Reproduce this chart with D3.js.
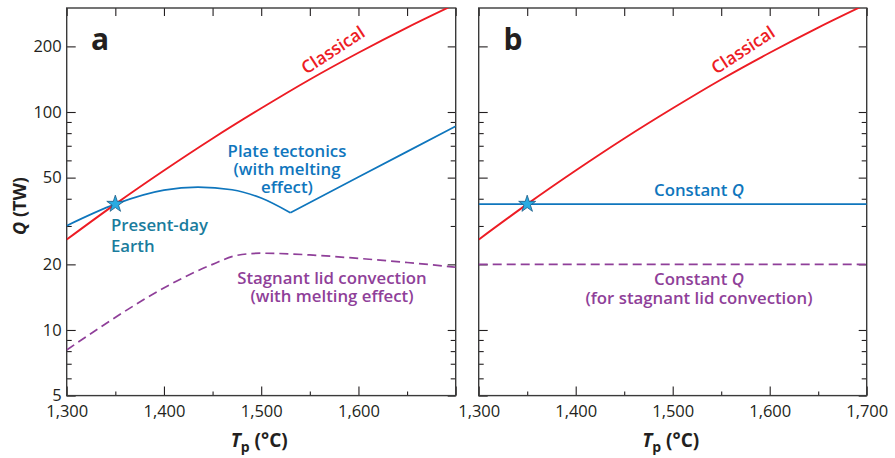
<!DOCTYPE html>
<html>
<head>
<meta charset="utf-8">
<script src="https://cdn.jsdelivr.net/npm/d3@7"></script>
<style>
  body { margin: 0; background: #fff; }
  svg { display: block; }
  text { font-family: "Open Sans", "Noto Sans", sans-serif; }
</style>
</head>
<body>
<svg id="chart" width="895" height="458"></svg>
<script>
// tick values
const tempTicks = [1300, 1400, 1500, 1600, 1700];
const tempMinor = [1350, 1450, 1550, 1650];
const qTicks = [5, 10, 20, 50, 100, 200];
const qMinor = [6, 7, 8, 9, 30, 40, 60, 70, 80, 90];

// panel a series (Tp in °C, Q in TW)
const classicalT = [1300, 1350, 1400, 1450, 1500, 1550, 1600, 1650, 1700];
const classicalQ = [26, 37.8, 53.9, 75.6, 104, 141, 187, 244, 313];
const plateT = [1300, 1350, 1400, 1435, 1470, 1500, 1530];
const plateQ = [30.1, 37.8, 43.8, 45.2, 44, 40.3, 34.5];
const plateHotT = [1530, 1600, 1650, 1700];
const plateHotQ = [34.5, 50.3, 65.8, 86];
const stagnantT = [1300, 1450, 1475, 1500, 1550, 1600, 1650, 1700];
const stagnantQ = [8.1, 20, 22, 22.5, 22.1, 21.3, 20.4, 19.4];

// panel b series
const constT = [1300, 1700];
const constQ = [37.8, 37.8];
const constStagQ = [20, 20];

// present-day Earth
const presentT = 1350;
const presentQ = 37.8;

const RED = "#ed1c24", BLUE = "#0f76bd", PURPLE = "#8f3f99", TEAL = "#1a7c9d", INK = "#231f20";
const NOTE = 16.8;

const svg = d3.select("#chart");
const yTop = 8, yBottom = 395.6;
const y = d3.scaleLog().domain([5, 300]).range([yBottom, yTop]);

const pts = (T, Q) => T.map((t, i) => [t, Q[i]]);

function panel(id, x0, x1, xLabels, showY) {
  const x = d3.scaleLinear().domain([1300, 1700]).range([x0, x1]);
  const g = svg.append("g");

  g.append("clipPath").attr("id", "clip-" + id)
    .append("rect").attr("x", x0).attr("y", yTop).attr("width", x1 - x0).attr("height", yBottom - yTop);

  // ticks, all pointing inward
  const fmt = d3.format(",");
  g.append("g").attr("transform", `translate(0,${yBottom})`)
    .call(d3.axisBottom(x).tickValues(tempTicks).tickSize(-9).tickPadding(10)
      .tickFormat(d => xLabels.includes(d) ? fmt(d) : ""));
  g.append("g").attr("transform", `translate(0,${yBottom})`)
    .call(d3.axisBottom(x).tickValues(tempMinor).tickSize(-4).tickFormat(""));
  g.append("g").attr("transform", `translate(0,${yTop})`)
    .call(d3.axisTop(x).tickValues(tempTicks.concat(tempMinor)).tickSize(-8).tickFormat(""));

  g.append("g").attr("transform", `translate(${x0},0)`)
    .call(d3.axisLeft(y).tickValues(qTicks).tickSize(-9).tickPadding(5)
      .tickFormat(d => showY ? d : ""));
  g.append("g").attr("transform", `translate(${x0},0)`)
    .call(d3.axisLeft(y).tickValues(qMinor).tickSize(-5).tickFormat(""));
  g.append("g").attr("transform", `translate(${x1},0)`)
    .call(d3.axisRight(y).tickValues(qTicks).tickSize(-8).tickFormat(""));
  g.append("g").attr("transform", `translate(${x1},0)`)
    .call(d3.axisRight(y).tickValues(qMinor).tickSize(-5).tickFormat(""));

  g.selectAll(".domain").remove();
  g.selectAll(".tick line").attr("stroke", INK).attr("stroke-width", 1.1);
  g.selectAll(".tick text").attr("fill", INK).style("font-size", "16.5px");

  g.append("rect").attr("x", x0).attr("y", yTop).attr("width", x1 - x0).attr("height", yBottom - yTop)
    .attr("fill", "none").attr("stroke", "#3a3a3a").attr("stroke-width", 1.4);

  // axis title
  const t = g.append("text").attr("x", (x0 + x1) / 2 - 2).attr("y", 447)
    .attr("text-anchor", "middle").attr("fill", INK)
    .style("font-size", "19px").style("font-weight", 700);
  t.append("tspan").style("font-style", "italic").text("T");
  t.append("tspan").attr("dy", 5).style("font-size", "14px").text("p");
  t.append("tspan").attr("dy", -5).text(" (°C)");

  const plot = g.append("g").attr("clip-path", `url(#clip-${id})`);
  const line = d3.line().x(d => x(d[0])).y(d => y(d[1]));
  return { g, x, plot, line };
}

// ---- panel a ----
const a = panel("a", 66.7, 455.7, [1300, 1400, 1500, 1600], true);

a.plot.append("path").datum(pts(stagnantT, stagnantQ))
  .attr("d", a.line.curve(d3.curveMonotoneX))
  .attr("fill", "none").attr("stroke", PURPLE).attr("stroke-width", 1.7).attr("stroke-dasharray", "9,5");
a.plot.append("path").datum(pts(plateT, plateQ))
  .attr("d", a.line.curve(d3.curveMonotoneX))
  .attr("fill", "none").attr("stroke", BLUE).attr("stroke-width", 1.7);
a.plot.append("path").datum(pts(plateHotT, plateHotQ))
  .attr("d", a.line.curve(d3.curveLinear))
  .attr("fill", "none").attr("stroke", BLUE).attr("stroke-width", 1.7);
a.plot.append("path").datum(pts(classicalT, classicalQ))
  .attr("d", a.line.curve(d3.curveMonotoneX))
  .attr("fill", "none").attr("stroke", RED).attr("stroke-width", 1.9);

// ---- panel b ----
const b = panel("b", 478.7, 866.7, tempTicks, false);

b.plot.append("path").datum(pts(constT, constStagQ))
  .attr("d", b.line.curve(d3.curveLinear))
  .attr("fill", "none").attr("stroke", PURPLE).attr("stroke-width", 1.7).attr("stroke-dasharray", "9,5");
b.plot.append("path").datum(pts(constT, constQ))
  .attr("d", b.line.curve(d3.curveLinear))
  .attr("fill", "none").attr("stroke", BLUE).attr("stroke-width", 1.7);
b.plot.append("path").datum(pts(classicalT, classicalQ))
  .attr("d", b.line.curve(d3.curveMonotoneX))
  .attr("fill", "none").attr("stroke", RED).attr("stroke-width", 1.9);

// stars
[a, b].forEach(p => {
  p.g.append("path")
    .attr("d", d3.symbol(d3.symbolStar, 90)())
    .attr("transform", `translate(${p.x(presentT)},${y(presentQ)})`)
    .attr("fill", "#29abe2").attr("stroke", "#1b5a85").attr("stroke-width", 0.8);
});

// text helper
function label(p, txt, xx, yy, color, size, weight) {
  return p.g.append("text").attr("x", xx).attr("y", yy).attr("text-anchor", "middle")
    .attr("fill", color).style("font-size", size + "px").style("font-weight", weight).text(txt);
}
label(a, "a", 100, 50, INK, 30, 700);
label(b, "b", 513, 50, INK, 30, 700);

// classical labels, rotated along the curve
[[a, 333], [b, 743]].forEach(([p, cx]) => {
  p.g.append("text").attr("transform", `translate(${cx},50) rotate(-33)`)
    .attr("text-anchor", "middle").attr("dy", "0.35em").attr("fill", RED)
    .style("font-size", "17.5px").style("font-weight", 600).text("Classical");
});

// panel a annotations
label(a, "Plate tectonics", 287, 157, BLUE, NOTE, 600);
label(a, "(with melting", 287, 175, BLUE, NOTE, 600);
label(a, "effect)", 287, 193, BLUE, NOTE, 600);
label(a, "Present-day", 111, 231, TEAL, NOTE, 600).attr("text-anchor", "start");
label(a, "Earth", 111, 252, TEAL, NOTE, 600).attr("text-anchor", "start");
label(a, "Stagnant lid convection", 332, 284, PURPLE, NOTE, 600);
label(a, "(with melting effect)", 332, 302, PURPLE, NOTE, 600);

// panel b annotations
function constLabel(xx, yy, color) {
  const t = b.g.append("text").attr("x", xx).attr("y", yy).attr("text-anchor", "middle")
    .attr("fill", color).style("font-size", NOTE + "px").style("font-weight", 600);
  t.append("tspan").text("Constant ");
  t.append("tspan").style("font-style", "italic").text("Q");
}
constLabel(699, 196, BLUE);
constLabel(699, 285, PURPLE);
label(b, "(for stagnant lid convection)", 699, 304, PURPLE, NOTE, 600);

// y axis title
const yt = svg.append("text").attr("transform", "translate(26,206) rotate(-90)")
  .attr("text-anchor", "middle").attr("fill", INK)
  .style("font-size", "18px").style("font-weight", 700);
yt.append("tspan").style("font-style", "italic").text("Q");
yt.append("tspan").text(" (TW)");
</script>
</body>
</html>
